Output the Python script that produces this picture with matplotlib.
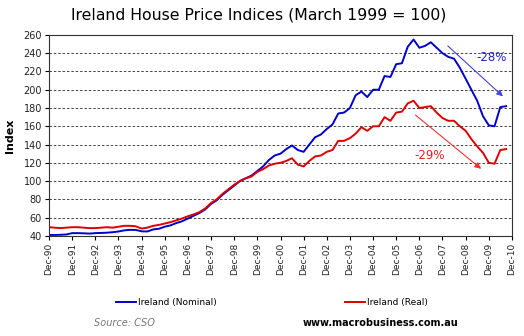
import matplotlib
matplotlib.use('Agg')
from matplotlib import pyplot as plt
import matplotlib.dates as mdates
import pandas as pd

# quarterly index values, Dec-90 to Sep-10 (March 1999 = 100)
quarters = pd.date_range('1990-12-31', periods=80, freq='QE')

nominal = [41.0, 41.0, 41.2, 41.5, 43.0, 43.0, 42.8, 42.5, 43.0, 43.2,
           43.5, 44.0, 44.8, 46.0, 46.6, 46.5, 45.0, 44.8, 47.0, 47.8,
           50.0, 51.5, 54.0, 56.0, 59.0, 62.0, 65.0, 69.0, 75.0, 79.0,
           85.0, 90.0, 95.0, 100.0, 103.0, 106.0, 111.0, 116.0, 123.0, 128.0,
           130.0, 135.0, 139.0, 134.0, 132.0, 140.0, 148.0, 151.0, 157.0, 162.0,
           174.0, 175.0, 180.0, 194.0, 198.0, 192.0, 200.0, 200.0, 215.0, 214.0,
           228.0, 229.0, 247.0, 255.0, 246.0, 248.0, 252.0, 246.0, 240.0, 236.0,
           234.0, 224.0, 212.0, 200.0, 188.0, 171.0, 161.0, 160.0, 181.0, 182.0]

real = [49.5, 49.0, 48.5, 49.0, 49.5, 49.5, 49.0, 48.5, 48.5, 49.0,
        49.5, 49.0, 50.0, 51.0, 51.0, 50.5, 48.0, 49.0, 51.0, 52.0,
        53.5, 55.0, 57.0, 59.0, 61.5, 63.5, 66.0, 70.0, 76.0, 80.0,
        86.0, 91.0, 96.0, 100.0, 103.0, 105.0, 110.0, 113.0, 117.0, 119.0,
        120.0, 122.0, 125.0, 118.0, 116.0, 122.0, 127.0, 128.0, 132.0, 134.0,
        144.0, 144.0, 147.0, 152.0, 159.0, 155.0, 160.0, 160.0, 170.0, 166.0,
        175.0, 176.0, 185.0, 188.0, 180.0, 181.0, 182.0, 175.0, 169.0, 166.0,
        166.0, 160.0, 155.0, 146.0, 138.0, 131.0, 120.0, 119.0, 134.0, 135.0]

year_ticks = pd.date_range('1990-12-31', '2010-12-31', freq='YE')
y_ticks = list(range(40, 261, 20))

plt.rcParams['font.family'] = 'DejaVu Sans'

fig = plt.figure(figsize=(5.24, 3.36), dpi=100)
ax = fig.add_axes([0.0935, 0.298, 0.8835, 0.598])

ax.plot(quarters, nominal, color='#0000cc', linewidth=1.4, label='Ireland (Nominal)')
ax.plot(quarters, real, color='#dd0000', linewidth=1.4, label='Ireland (Real)')

ax.set_xlim(year_ticks[0], year_ticks[-1])
ax.set_ylim(40, 260)
ax.set_yticks(y_ticks)
ax.set_xticks(year_ticks)
ax.xaxis.set_major_formatter(mdates.DateFormatter('%b-%y'))
ax.tick_params(axis='x', labelrotation=90, labelsize=6.5, length=3, pad=2, labelcolor='#222222')
ax.tick_params(axis='y', labelsize=7, length=3, pad=2, labelcolor='#222222')
ax.yaxis.grid(True, linestyle=(0, (2.5, 2)), color='#444444', linewidth=0.7)
ax.set_axisbelow(True)
for s in ax.spines.values():
    s.set_color('#333333')
    s.set_linewidth(0.8)

ax.set_ylabel('Index', fontsize=8, fontweight='bold', labelpad=6)
fig.text(0.494, 0.955, 'Ireland House Price Indices (March 1999 = 100)',
         ha='center', va='center', fontsize=11.3)

# trend arrows
ax.annotate('', xy=(0.985, 0.685), xytext=(0.857, 0.955), xycoords='axes fraction',
            arrowprops=dict(arrowstyle='-|>', color='#4444dd', lw=0.8, mutation_scale=9))
ax.text(0.955, 0.89, '-28%', transform=ax.transAxes, color='#2222bb',
        fontsize=8.5, ha='center', va='center')
ax.annotate('', xy=(0.938, 0.325), xytext=(0.787, 0.610), xycoords='axes fraction',
            arrowprops=dict(arrowstyle='-|>', color='#ee3333', lw=0.8, mutation_scale=9))
ax.text(0.823, 0.398, '-29%', transform=ax.transAxes, color='#dd2222',
        fontsize=8.5, ha='center', va='center')

fig.legend(loc='center', bbox_to_anchor=(0.519, 0.1), ncol=2, frameon=False,
           fontsize=6.5, handlelength=2.2, handletextpad=0.2, columnspacing=14.2)

fig.text(0.18, 0.038, 'Source: CSO', ha='left', va='center', fontsize=7,
         style='italic', color='#777777')
fig.text(0.578, 0.038, 'www.macrobusiness.com.au', ha='left', va='center',
         fontsize=7, fontweight='bold', color='black')

fig.savefig('out.png', dpi=100)
